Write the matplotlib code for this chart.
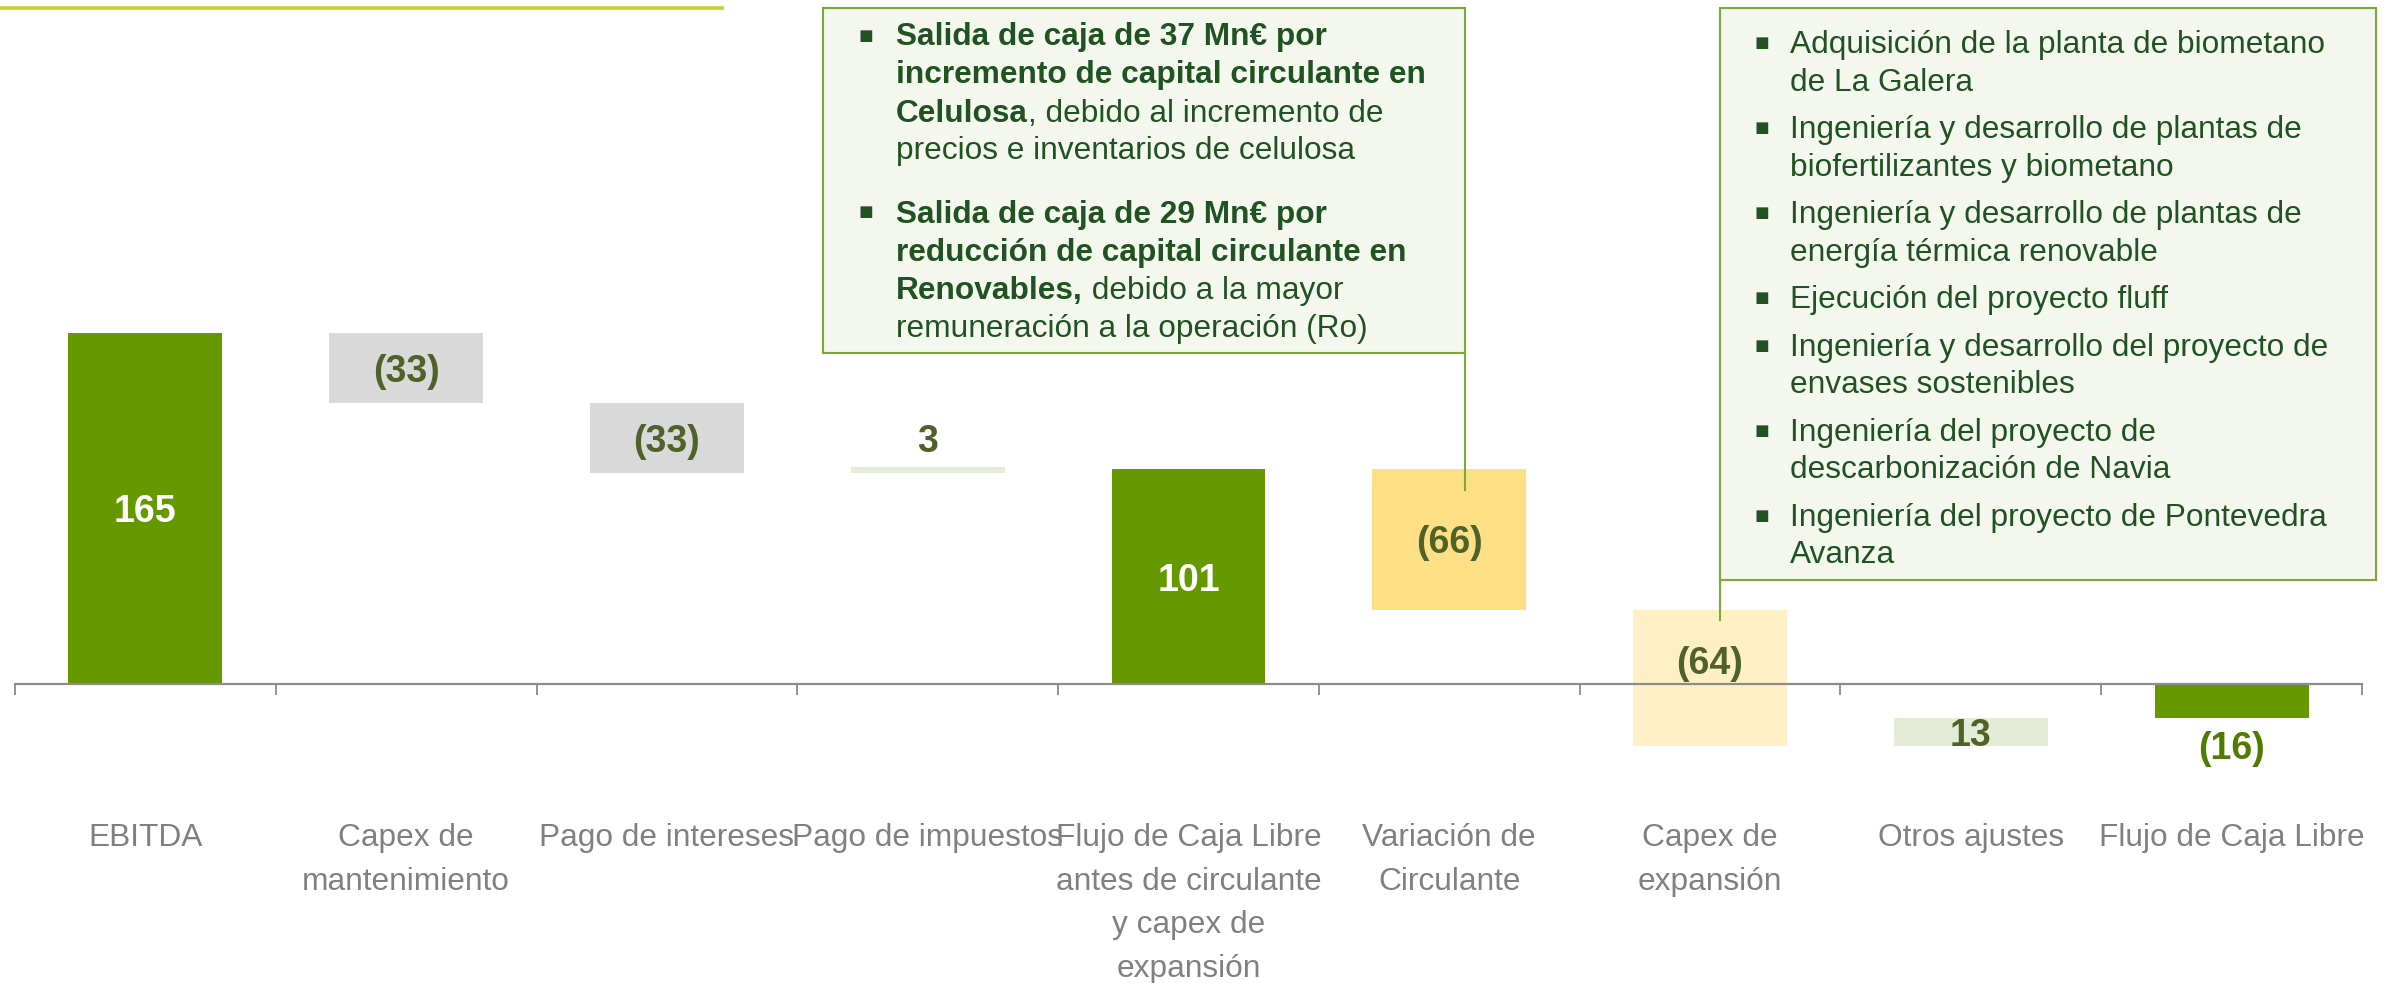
import numpy as np
import matplotlib.pyplot as plt
from matplotlib import font_manager as fm
from matplotlib.patches import Rectangle

# data
categories = ['EBITDA', 'Capex de\nmantenimiento', 'Pago de intereses', 'Pago de impuestos',
              'Flujo de Caja Libre\nantes de circulante\ny capex de\nexpansión',
              'Variación de\nCirculante', 'Capex de\nexpansión', 'Otros ajustes',
              'Flujo de Caja Libre']
values = [165, -33, -33, 3, 101, -66, -64, 13, -16]
is_total = [True, False, False, False, True, False, False, False, True]
value_labels = ['165', '(33)', '(33)', '3', '101', '(66)', '(64)', '13', '(16)']
bar_colors = ['#669900', '#d9d9d9', '#d9d9d9', '#e4ecd7', '#669900',
              '#fedf85', '#fef0c4', '#e4ecd7', '#669900']

note_wc = [
    [('Salida de caja de 37 Mn€ por', True)],
    [('incremento de capital circulante en', True)],
    [('Celulosa', True), (', debido al incremento de', False)],
    [('precios e inventarios de celulosa', False)],
    [('Salida de caja de 29 Mn€ por', True)],
    [('reducción de capital circulante en', True)],
    [('Renovables,', True), (' debido a la mayor', False)],
    [('remuneración a la operación (Ro)', False)],
]
note_capex = [
    ['Adquisición de la planta de biometano', 'de La Galera'],
    ['Ingeniería y desarrollo de plantas de', 'biofertilizantes y biometano'],
    ['Ingeniería y desarrollo de plantas de', 'energía térmica renovable'],
    ['Ejecución del proyecto fluff'],
    ['Ingeniería y desarrollo del proyecto de', 'envases sostenibles'],
    ['Ingeniería del proyecto de', 'descarbonización de Navia'],
    ['Ingeniería del proyecto de Pontevedra', 'Avanza'],
]

W, H = 2386, 983
FONT = ['Liberation Sans', 'DejaVu Sans']
TXT = '#215221'
LBL = '#4f6228'
GRID = '#8c8c8c'
FS = 22.8
BULLET_FS = 34

names = {f.name for f in fm.fontManager.ttflist}
if 'Liberation Sans Narrow' in names:
    num_font, num_size = ['Liberation Sans Narrow', 'Liberation Sans'], 29.5
else:
    num_font, num_size = FONT, 27

plt.rcParams['font.family'] = FONT

# waterfall geometry
bottoms, heights = [], []
running = 0
for v, tot in zip(values, is_total):
    if tot:
        bottoms.append(0)
        running = v
    else:
        bottoms.append(running)
        running += v
    heights.append(v)
x = np.arange(len(categories))

fig = plt.figure(figsize=(W / 100, H / 100), dpi=100)
ppu = 2.128  # pixels per unit
ax = fig.add_axes([15 / W, (H - 800) / H, 2347 / W, 800 / H])
ax.set_xlim(-0.5, len(categories) - 0.5)
ax.set_ylim(-(800 - 684) / ppu, 684 / ppu)

ax.bar(x, heights, bottom=bottoms, width=0.59, color=bar_colors, linewidth=0)

for sp in ['top', 'left', 'right']:
    ax.spines[sp].set_visible(False)
ax.spines['bottom'].set_position(('data', 0))
ax.spines['bottom'].set_color(GRID)
ax.spines['bottom'].set_linewidth(1.6)
ax.yaxis.set_visible(False)
ax.set_xticks(np.arange(len(categories) + 1) - 0.5)
ax.set_xticklabels([])
ax.set_xticks(x, minor=True)
ax.set_xticklabels(categories, minor=True, fontsize=FS, color='#808080', linespacing=1.6)
ax.tick_params(axis='x', which='major', length=7.9, width=1.3, color=GRID, direction='out')
ax.tick_params(axis='x', which='minor', length=0, pad=100)

# value labels
for i, (b, h, s, tot) in enumerate(zip(bottoms, heights, value_labels, is_total)):
    top, bot = max(b, b + h), min(b, b + h)
    mid = (top + bot) / 2
    color = 'white' if tot else LBL
    va, y, dy = 'center_baseline', mid, 0
    if abs(h) < 5 and not tot:
        va, y, dy = 'baseline', top, 10.5
    elif tot and h < 0:
        va, y, dy, color = 'top', bot, -9, '#4e7b00'
    elif bot < 0 < top and not tot:
        dy = 12.5
    ax.annotate(s, xy=(i, y), xytext=(0, dy), textcoords='offset points',
                ha='center', va=va, fontsize=num_size, fontweight='bold',
                color=color, family=num_font)

# overlay in pixel coordinates for notes
ov = fig.add_axes([0, 0, 1, 1])
ov.set_xlim(0, W)
ov.set_ylim(H, 0)
ov.axis('off')

ov.plot([0, 724], [8, 8], color='#c6d22e', lw=2.6, solid_capstyle='butt')

def note_box(x0, y0, x1, y1, lx, ly):
    ov.add_patch(Rectangle((x0, y0), x1 - x0, y1 - y0, facecolor='#f3f7ee',
                           edgecolor='#7aab35', lw=1.5))
    ov.plot([lx, lx], [y1, ly], color='#7aab35', lw=1.5)

note_box(823, 8, 1465, 353, 1465, 490)
note_box(1720, 8, 2376, 580, 1720, 620)

# box 1 text
y = 45.5
for k, parts in enumerate(note_wc):
    if k == 4:
        y += 25
    if k in (0, 4):
        ov.text(857, y + 5, '▪', fontsize=BULLET_FS, color=TXT, va='baseline', ha='left')
    prev = None
    for s, bold in parts:
        w = 'bold' if bold else 'normal'
        if prev is None:
            prev = ov.text(896, y, s, fontsize=FS, fontweight=w, color=TXT,
                           va='baseline', ha='left')
        else:
            prev = ov.annotate(s, xy=(1, 0), xycoords=prev, fontsize=FS, fontweight=w,
                               color=TXT, va='bottom', ha='left')
    y += 38

# box 2 text
y = 53.3
for item in note_capex:
    ov.text(1754, y + 5, '▪', fontsize=BULLET_FS, color=TXT, va='baseline', ha='left')
    for line in item:
        ov.text(1790, y, line, fontsize=FS, color=TXT, va='baseline', ha='left')
        y += 37.5
    y += 10

fig.savefig('out.png', dpi=100)
plt.close('all')
